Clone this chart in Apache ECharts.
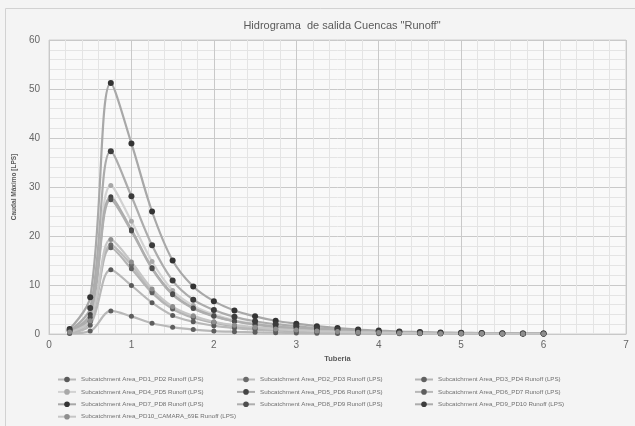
<!DOCTYPE html>
<html><head><meta charset="utf-8">
<script src="https://cdn.jsdelivr.net/npm/echarts@6/dist/echarts.min.js"></script>
<style>html,body{margin:0;padding:0;background:#f4f4f4}#c{width:635px;height:426px}</style>
</head><body><div id="c"></div>
<script>
const xs = [0.25,0.5,0.75,1,1.25,1.5,1.75,2,2.25,2.5,2.75,3,3.25,3.5,3.75,4,4.25,4.5,4.75,5,5.25,5.5,5.75,6];
const seriesNames = [
 'Subcatchment Area_PD1_PD2 Runoff (LPS)',
 'Subcatchment Area_PD2_PD3 Runoff (LPS)',
 'Subcatchment Area_PD3_PD4 Runoff (LPS)',
 'Subcatchment Area_PD4_PD5 Runoff (LPS)',
 'Subcatchment Area_PD5_PD6 Runoff (LPS)',
 'Subcatchment Area_PD6_PD7 Runoff (LPS)',
 'Subcatchment Area_PD7_PD8 Runoff (LPS)',
 'Subcatchment Area_PD8_PD9 Runoff (LPS)',
 'Subcatchment Area_PD9_PD10 Runoff (LPS)',
 'Subcatchment Area_PD10_CAMARA_69E Runoff (LPS)'
];
const pd1_pd2 = [0.2,1.8,13.1,9.9,6.4,3.8,2.5,1.7,1.2,0.9,0.7,0.55,0.4,0.3,0.25,0.2,0.15,0.1,0.1,0.05,0.05,0.05,0.05,0];
const pd2_pd3 = [0.3,2.6,18.2,14.1,8.7,5.3,3.5,2.4,1.7,1.3,1.0,0.8,0.6,0.45,0.35,0.25,0.2,0.15,0.1,0.1,0.05,0.05,0.05,0.05];
const pd3_pd4 = [0.3,2.5,17.6,13.3,8.4,5.1,3.3,2.3,1.6,1.2,0.9,0.7,0.55,0.4,0.3,0.25,0.2,0.15,0.1,0.1,0.05,0.05,0.05,0.05];
const pd4_pd5 = [0.6,4.3,30.3,23.0,14.8,8.9,5.8,4.0,2.8,2.1,1.6,1.3,1.0,0.7,0.55,0.4,0.3,0.25,0.2,0.15,0.1,0.1,0.1,0.05];
const pd5_pd6 = [0.5,4.0,28.0,21.3,13.5,8.2,5.3,3.7,2.6,2.0,1.5,1.2,0.9,0.7,0.5,0.4,0.3,0.2,0.2,0.15,0.1,0.1,0.05,0.05];
const pd6_pd7 = [0.1,0.6,4.7,3.6,2.2,1.4,0.9,0.6,0.45,0.35,0.25,0.2,0.15,0.1,0.1,0.05,0.05,0.05,0,0,0,0,0,0];
const pd7_pd8 = [1.0,7.5,51.2,38.9,25.0,15.0,9.7,6.7,4.8,3.6,2.7,2.1,1.6,1.2,0.9,0.7,0.5,0.4,0.3,0.25,0.2,0.15,0.1,0.1];
const pd8_pd9 = [0.5,3.4,27.4,21.0,13.3,8.0,5.2,3.6,2.6,1.9,1.4,1.1,0.9,0.7,0.5,0.4,0.3,0.2,0.2,0.1,0.1,0.1,0.05,0.05];
const pd9_pd10 = [0.7,5.3,37.3,28.1,18.1,10.9,7.0,4.9,3.5,2.6,2.0,1.6,1.2,0.9,0.7,0.5,0.4,0.3,0.2,0.2,0.15,0.1,0.1,0.1];
const pd10_camara = [0.4,2.7,19.3,14.7,9.2,5.6,3.7,2.5,1.8,1.4,1.0,0.8,0.6,0.5,0.35,0.3,0.2,0.15,0.1,0.1,0.1,0.05,0.05,0.05];
const allValues = [pd1_pd2,pd2_pd3,pd3_pd4,pd4_pd5,pd5_pd6,pd6_pd7,pd7_pd8,pd8_pd9,pd9_pd10,pd10_camara];
const lineColors = ['#b8b8b8','#bcbcbc','#b4b4b4','#d2d2d2','#acacac','#b8b8b8','#a8a8a8','#aeaeae','#acacac','#c6c6c6'];
const markColors = ['#5a5a5a','#6a6a6a','#606060','#a8a8a8','#454545','#5e5e5e','#333333','#4e4e4e','#3c3c3c','#8e8e8e'];
const xTicks = [0,1,2,3,4,5,6,7];
const yTicks = [0,10,20,30,40,50,60];

const series = seriesNames.map((n,i)=>({
  name:n, type:'line', smooth:0.35,
  data: xs.map((x,j)=>[x, allValues[i][j]]),
  symbol:'circle', symbolSize: i===6||i===8 ? 6 : 5,
  lineStyle:{color:lineColors[i], width:2.2},
  itemStyle:{color:markColors[i]},
  z: 2
}));

const legendCommon = {orient:'vertical', padding:0, itemWidth:18, itemHeight:7, itemGap:5.4,
  textStyle:{fontSize:6.2, lineHeight:7, color:'#707070', fontFamily:'Liberation Sans'}};
const chart = echarts.init(document.getElementById('c'));
chart.setOption({
  backgroundColor:'#f4f4f4',
  animation:false,
  title:{text:'Hidrograma  de salida Cuencas "Runoff"', left:337, textAlign:'center', top:15,
    textStyle:{fontSize:11, fontWeight:'normal', color:'#5a5a5a', fontFamily:'Liberation Sans'}},
  graphic:[{type:'rect', shape:{x:5.5,y:8.5,width:640,height:430}, style:{fill:'none', stroke:'#d2d2d2', lineWidth:1}, silent:true}],
  grid:{left:49, right:9, top:40, bottom:92, show:true, backgroundColor:'#f9f9f9', borderColor:'#d0d0d0', borderWidth:1},
  xAxis:{type:'value', min:0, max:7, interval:1,
    name:'Tuberia', nameLocation:'middle', nameGap:21,
    nameTextStyle:{fontSize:7.5, fontWeight:'bold', color:'#5a5a5a', fontFamily:'Liberation Sans'},
    axisLine:{show:true, lineStyle:{color:'#c8c8c8'}}, axisTick:{show:false},
    axisLabel:{fontSize:10, color:'#666', margin:6, formatter:v=>xTicks.includes(v)?String(v):''},
    splitLine:{show:true, lineStyle:{color:'#c9c9c9', width:1}},
    minorTick:{show:false, splitNumber:5},
    minorSplitLine:{show:true, lineStyle:{color:'#e4e4e4', width:1}}},
  yAxis:{type:'value', min:0, max:60, interval:10,
    name:'Caudal Máximo [LPS]', nameLocation:'middle', nameGap:26,
    nameTextStyle:{fontSize:6.5, fontWeight:'bold', color:'#5a5a5a', fontFamily:'Liberation Sans'},
    axisLine:{show:false}, axisTick:{show:false},
    axisLabel:{fontSize:10, color:'#666', margin:9, formatter:v=>yTicks.includes(v)?String(v):''},
    splitLine:{show:true, lineStyle:{color:'#c9c9c9', width:1}},
    minorTick:{show:false, splitNumber:5},
    minorSplitLine:{show:true, lineStyle:{color:'#e4e4e4', width:1}}},
  legend:[
    Object.assign({left:57, top:376, data:[seriesNames[0],seriesNames[3],seriesNames[6],seriesNames[9]]}, legendCommon),
    Object.assign({left:236, top:376, data:[seriesNames[1],seriesNames[4],seriesNames[7]]}, legendCommon),
    Object.assign({left:414, top:376, data:[seriesNames[2],seriesNames[5],seriesNames[8]]}, legendCommon)
  ],
  series: series
});
</script></body></html>
